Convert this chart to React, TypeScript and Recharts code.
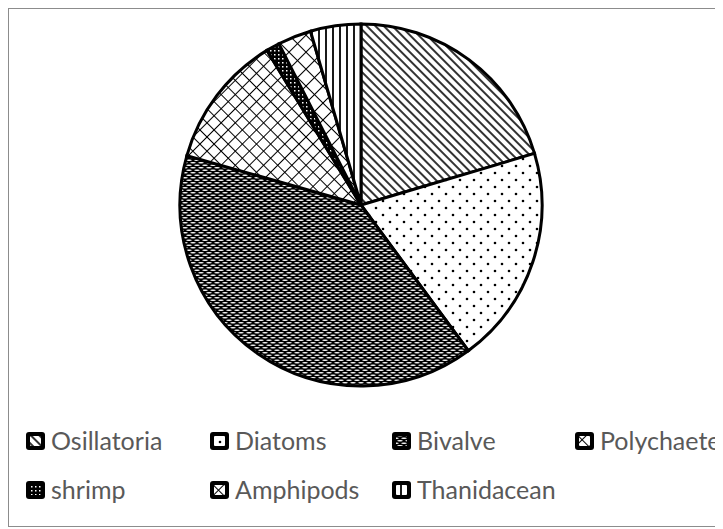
import { Legend, Pie, PieChart } from "recharts";

const categories = ["Osillatoria", "Diatoms", "Bivalve", "Polychaete", "shrimp", "Amphipods", "Thanidacean"];
const shares = [20.4, 19.5, 39.5, 11.9, 1.2, 3.0, 4.5];
const patternIds = ["pOsc", "pDia", "pBiv", "pPol", "pShr", "pAmp", "pTha"];

const data = categories.map((name, i) => ({ name, value: shares[i], fill: `url(#${patternIds[i]})` }));

function Patterns() {
  return (
    <defs>
      <pattern id="pOsc" width="6" height="6" patternUnits="userSpaceOnUse" patternTransform="rotate(-45)">
        <rect width="6" height="6" fill="#fff" />
        <line x1="1" y1="0" x2="1" y2="6" stroke="#000" strokeWidth="1.6" />
      </pattern>
      <pattern id="pDia" width="14" height="14" patternUnits="userSpaceOnUse">
        <rect width="14" height="14" fill="#fff" />
        <circle cx="3" cy="3" r="1.3" fill="#000" />
        <circle cx="10" cy="10" r="1.3" fill="#000" />
      </pattern>
      <pattern id="pBiv" width="8" height="5" patternUnits="userSpaceOnUse">
        <rect width="8" height="5" fill="#000" />
        <ellipse cx="4" cy="1.2" rx="2.8" ry="0.8" fill="#fff" />
        <ellipse cx="0" cy="3.7" rx="2.8" ry="0.8" fill="#fff" />
        <ellipse cx="8" cy="3.7" rx="2.8" ry="0.8" fill="#fff" />
      </pattern>
      <pattern id="pPol" width="10" height="10" patternUnits="userSpaceOnUse" patternTransform="rotate(45)">
        <rect width="10" height="10" fill="#fff" />
        <line x1="0" y1="0" x2="10" y2="0" stroke="#000" strokeWidth="2" />
        <line x1="0" y1="0" x2="0" y2="10" stroke="#000" strokeWidth="2" />
        <circle cx="5" cy="5" r="4" fill="#fff" />
      </pattern>
      <pattern id="pShr" width="4" height="4" patternUnits="userSpaceOnUse">
        <rect width="4" height="4" fill="#000" />
        <rect x="1" y="1" width="1.5" height="1.5" fill="#fff" />
      </pattern>
      <pattern id="pAmp" width="12" height="12" patternUnits="userSpaceOnUse" patternTransform="rotate(45)">
        <rect width="12" height="12" fill="#fff" />
        <line x1="0" y1="0" x2="12" y2="0" stroke="#000" strokeWidth="2" />
        <line x1="0" y1="0" x2="0" y2="12" stroke="#000" strokeWidth="2" />
        <circle cx="6" cy="6" r="4.6" fill="#fff" />
      </pattern>
      <pattern id="pTha" width="7" height="7" patternUnits="userSpaceOnUse">
        <rect width="7" height="7" fill="#fff" />
        <line x1="2" y1="0" x2="2" y2="7" stroke="#000" strokeWidth="1.8" />
      </pattern>
    </defs>
  );
}

const legendX = [17, 201, 383, 566];
const legendY = [0, 49];

function renderLegend() {
  return (
    <div style={{ position: "relative", width: 711, height: 100 }}>
      {categories.map((name, i) => {
        const col = i < 4 ? i : i - 4;
        const row = i < 4 ? 0 : 1;
        return (
          <div
            key={name}
            style={{
              position: "absolute",
              left: legendX[col],
              top: legendY[row],
              display: "flex",
              alignItems: "center",
              fontFamily: "Lato, sans-serif",
              fontSize: 25,
              lineHeight: "31px",
              color: "#595959",
              whiteSpace: "nowrap",
            }}
          >
            <svg width="19" height="18" style={{ marginRight: 6 }}>
              <rect x="0" y="0" width="19" height="18" rx="3" fill="#000" />
              <rect x="4" y="4" width="11" height="10" rx="1" fill={`url(#${patternIds[i]})`} />
            </svg>
            {name}
          </div>
        );
      })}
    </div>
  );
}

export default function App() {
  return (
    <div style={{ width: 711, height: 517, border: "1px solid #8c8c8c", background: "#fff", position: "relative", overflow: "hidden" }}>
      <PieChart width={711} height={517} margin={{ top: 0, right: 0, bottom: 0, left: 0 }}>
        <Patterns />
        <Pie
          data={data}
          dataKey="value"
          nameKey="name"
          cx={352}
          cy={196}
          outerRadius={181}
          startAngle={90}
          endAngle={-270}
          stroke="#000"
          strokeWidth={3}
          isAnimationActive={false}
        />
        <Legend
          content={renderLegend}
          wrapperStyle={{ position: "absolute", left: 0, top: 416, width: 711 }}
        />
      </PieChart>
    </div>
  );
}
